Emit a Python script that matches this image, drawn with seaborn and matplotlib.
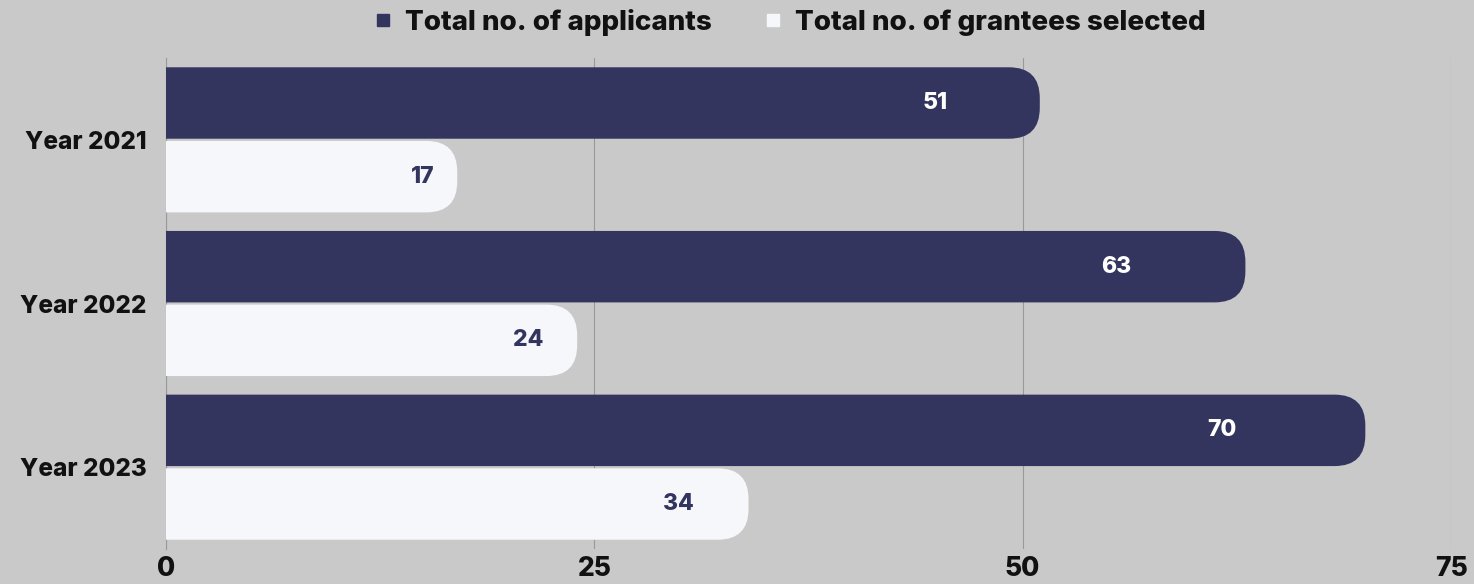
import pandas as pd
import matplotlib
matplotlib.use('Agg')
import matplotlib.pyplot as plt
import seaborn as sns
from matplotlib.patches import FancyBboxPatch
from matplotlib.lines import Line2D

years = ['Year 2021', 'Year 2022', 'Year 2023']
applicants = [51, 63, 70]
grantees = [17, 24, 34]
series = ['Total no. of applicants', 'Total no. of grantees selected']
xticks = [0, 25, 50, 75]

navy = '#34355f'
white = '#f6f7fb'
bg = '#c9c9c9'

df = pd.DataFrame({
    'year': years * 2,
    'value': applicants + grantees,
    'series': [series[0]] * 3 + [series[1]] * 3,
})

sns.set_theme(style='white')
plt.rcParams['font.family'] = ['Inter', 'DejaVu Sans']
W = 'heavy'

fig = plt.figure(figsize=(14.74, 5.84), dpi=100)
fig.patch.set_facecolor(bg)
ax = fig.add_axes([0.1126, 0.0599, 0.8718, 0.8408])
ax.set_facecolor('none')

sns.barplot(data=df, x='value', y='year', hue='series', orient='h',
            palette=[navy, white], width=0.9, gap=0.03, ax=ax, legend=False,
            saturation=1)
ax.set_xlim(0, 75)
ax.set_ylim(2.5, -0.5)

# swap square bars for bars with a rounded right end (left end clipped by the axes)
bbox = ax.get_window_extent()
asp = (bbox.width / 75) / (bbox.height / 3)
bars = list(ax.patches)
for i, p in enumerate(bars):
    x0, y0, w, h = p.get_x(), p.get_y(), p.get_width(), p.get_height()
    fc = p.get_facecolor()
    p.remove()
    ax.add_patch(FancyBboxPatch((x0 - 4, y0), w + 4, h,
                                boxstyle='round,pad=0,rounding_size=1.8',
                                mutation_aspect=asp, fc=fc, ec='none', zorder=3))
    txt_col = 'white' if i < len(applicants) else navy
    ax.text(w * 0.88, y0 + h / 2, str(int(round(w))), ha='center', va='center',
            color=txt_col, fontsize=16.5, fontweight=W, zorder=4)

ax.set_xticks(xticks)
ax.set_xticklabels([str(t) for t in xticks], fontsize=19, fontweight=W, color='#111111')
ax.set_yticks(range(len(years)))
ax.set_yticklabels(years, fontsize=17.5, fontweight=W, color='#111111')
ax.tick_params(axis='x', length=0, pad=5)
ax.tick_params(axis='y', length=0, pad=14)
ax.set_xlabel('')
ax.set_ylabel('')
ax.xaxis.grid(True, color='#999999', lw=0.8)
ax.set_axisbelow(True)
for s in ['top', 'right', 'bottom']:
    ax.spines[s].set_visible(False)
ax.spines['left'].set_color('#999999')
ax.spines['left'].set_linewidth(0.8)

handles = [Line2D([], [], marker='s', ls='', markersize=9, color=c) for c in [navy, white]]
leg = fig.legend(handles, series, loc='center', bbox_to_anchor=(0.535, 0.962), ncol=2,
                 frameon=False, prop={'size': 20, 'weight': W},
                 handletextpad=0.4, columnspacing=1.8, handlelength=0.8)
for t in leg.get_texts():
    t.set_color('#111111')

fig.savefig('out.png', dpi=100, facecolor=bg)
